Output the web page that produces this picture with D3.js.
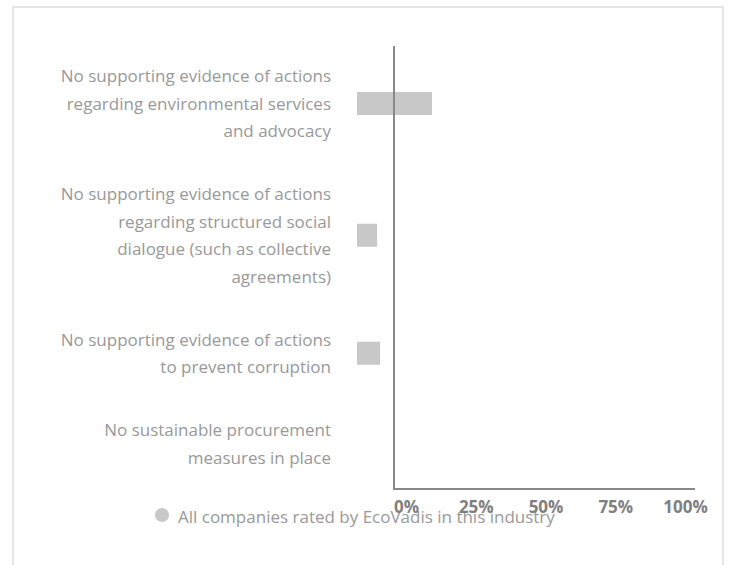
<!DOCTYPE html>
<html>
<head>
<meta charset="utf-8">
<script src="https://cdn.jsdelivr.net/npm/d3@7"></script>
<style>
  body { margin: 0; background: #fff; }
  svg { display: block; font-family: "Open Sans", sans-serif; }
</style>
</head>
<body>
<div id="chart"></div>
<script>
// categories (already split into lines as shown)
const categories = [
  ["No supporting evidence of actions", "regarding environmental services", "and advocacy"],
  ["No supporting evidence of actions", "regarding structured social", "dialogue (such as collective", "agreements)"],
  ["No supporting evidence of actions", "to prevent corruption"],
  ["No sustainable procurement", "measures in place"]
];
const industryValues = [25, 6.7, 7.7, 0];
const tickValues = [0, 25, 50, 75, 100];
const seriesName = "All companies rated by EcoVadis in this industry";

const svgWidth = 731;
const svgHeight = 565;
const lineHeight = 27.5;
const rowPad = 35.5;
const plotTop = 44.5;

const svg = d3.select("#chart")
  .append("svg")
  .attr("width", svgWidth)
  .attr("height", svgHeight);

// outer frame
svg.append("rect")
  .attr("x", 13)
  .attr("y", 7)
  .attr("width", 710)
  .attr("height", 600)
  .attr("fill", "none")
  .attr("stroke", "#e6e6e6")
  .attr("stroke-width", 2);

// row positions depend on the number of label lines
let acc = plotTop;
const rows = categories.map(lines => {
  const h = lines.length * lineHeight + rowPad;
  const r = { y0: acc, h: h, mid: acc + h / 2 };
  acc += h;
  return r;
});
const plotBottom = acc;

const barX = d3.scaleLinear().domain([0, 100]).range([357, 657]);
const tickX = d3.scaleLinear().domain([0, 100]).range([406, 685]);

// bars
svg.selectAll(".bar")
  .data(industryValues)
  .enter()
  .append("rect")
  .attr("class", "bar")
  .attr("x", barX(0))
  .attr("y", (d, i) => rows[i].mid - 11.5)
  .attr("width", d => barX(d) - barX(0))
  .attr("height", 23)
  .attr("fill", "#c8c8c8");

// axis lines
svg.append("line")
  .attr("x1", 394).attr("x2", 394)
  .attr("y1", 46).attr("y2", plotBottom)
  .attr("stroke", "#888")
  .attr("stroke-width", 2);
svg.append("line")
  .attr("x1", 393).attr("x2", 695)
  .attr("y1", plotBottom).attr("y2", plotBottom)
  .attr("stroke", "#888")
  .attr("stroke-width", 2);

// category labels
const labels = svg.selectAll(".cat")
  .data(categories)
  .enter()
  .append("text")
  .attr("class", "cat")
  .attr("text-anchor", "end")
  .style("font-size", "17px")
  .style("fill", "#999");
labels.each(function (lines, i) {
  const n = lines.length;
  d3.select(this).selectAll("tspan")
    .data(lines)
    .enter()
    .append("tspan")
    .attr("x", 331)
    .attr("y", (d, j) => rows[i].mid + (j - (n - 1) / 2) * lineHeight + 6)
    .text(d => d);
});

// legend (drawn under the tick labels)
svg.append("circle")
  .attr("cx", 162)
  .attr("cy", 515)
  .attr("r", 7)
  .attr("fill", "#c8c8c8");
svg.append("text")
  .attr("x", 178)
  .attr("y", 523)
  .style("font-size", "17px")
  .style("fill", "#999")
  .text(seriesName);

// x tick labels
const xAxis = d3.axisBottom(tickX)
  .tickValues(tickValues)
  .tickSize(0)
  .tickFormat(d => d + "%");
const ax = svg.append("g")
  .attr("transform", `translate(0, ${plotBottom})`)
  .call(xAxis);
ax.select(".domain").remove();
ax.selectAll("text")
  .attr("y", 24)
  .attr("dy", 0)
  .style("font-family", "Open Sans, sans-serif")
  .style("font-size", "17px")
  .style("font-weight", "bold")
  .style("fill", "#808080");
</script>
</body>
</html>
